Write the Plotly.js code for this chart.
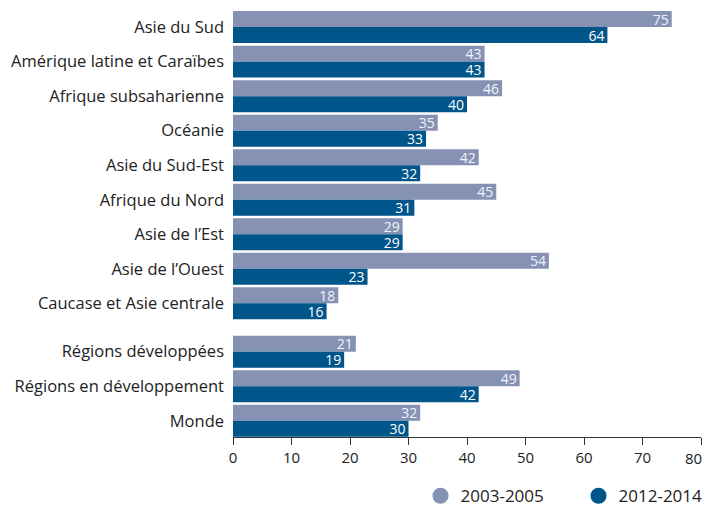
<!DOCTYPE html>
<html>
<head>
<meta charset="utf-8">
<script src="https://cdn.plot.ly/plotly-3.0.1.min.js"></script>
<style>html,body{margin:0;padding:0;background:#fff;}#chart{width:705px;height:509px;}</style>
</head>
<body>
<div id="chart"></div>
<script>
// Data
const regions = ["Asie du Sud","Amérique latine et Caraïbes","Afrique subsaharienne","Océanie","Asie du Sud-Est","Afrique du Nord","Asie de l’Est","Asie de l’Ouest","Caucase et Asie centrale"];
const aggregates = ["Régions développées","Régions en développement","Monde"];
const values2003 = [75,43,46,35,42,45,29,54,18, 21,49,32];
const values2012 = [64,43,40,33,32,31,29,23,16, 19,42,30];
const seriesNames = ["2003-2005","2012-2014"];
const xTicks = [0,10,20,30,40,50,60,70,80];

const categories = regions.concat(aggregates);
const groupGap = 0.4;
const pos = categories.map((c,i)=> i < regions.length ? i : i + groupGap);
const lastTick = xTicks[xTicks.length-1];
// the last tick label sits flush with the right edge (as in the reference): drawn as an annotation
const xTickText = xTicks.map(v => v === lastTick ? "" : String(v));

const light = "#8592b4", dark = "#00558a";
const font = "Open Sans, Noto Sans, sans-serif";

function barTrace(vals, color, name, txtColor){
  return {
    type:"bar", orientation:"h", x:vals, y:pos, name:name,
    marker:{color:color, line:{width:0}},
    text: vals.map(String), textposition:"inside", insidetextanchor:"end", textangle:0,
    textfont:{family:font, size:14, color:txtColor}, constraintext:"none",
    showlegend:false, hoverinfo:"x+name", cliponaxis:false
  };
}
const data = [
  barTrace(values2003, light, seriesNames[0], "#f2f3f8"),
  barTrace(values2012, dark, seriesNames[1], "#ffffff"),
  {type:"scatter", mode:"markers", x:[null], y:[null], name:seriesNames[0], marker:{symbol:"circle", size:16, color:light}, showlegend:true},
  {type:"scatter", mode:"markers", x:[null], y:[null], name:seriesNames[1], marker:{symbol:"circle", size:16, color:dark}, showlegend:true}
];

const layout = {
  width:705, height:509,
  margin:{l:233, r:4, t:5, b:72, pad:0, autoexpand:false},
  paper_bgcolor:"#fff", plot_bgcolor:"#fff",
  barmode:"group", bargap:0.074, bargroupgap:0,
  font:{family:font, size:16.5, color:"#222"},
  xaxis:{range:[0,80], tickvals:xTicks, ticktext:xTickText, showgrid:false, zeroline:false,
    showline:true, linecolor:"#333", linewidth:1, ticks:"outside", ticklen:7, tickcolor:"#333",
    ticklabeloverflow:"allow", automargin:false,
    tickfont:{family:font, size:15, color:"#222"}, fixedrange:true},
  yaxis:{range:[11.87,-0.64], tickvals:pos, ticktext:categories, showgrid:false, zeroline:false,
    showline:false, ticks:"", ticklabelstandoff:8, automargin:false,
    tickfont:{family:font, size:16.5, color:"#222"}},
  annotations:[{x:lastTick, xref:"x", y:0, yref:"paper", yanchor:"top", xanchor:"right",
    xshift:3, yshift:-9, text:String(lastTick), showarrow:false,
    font:{family:font, size:15, color:"#222"}}],
  legend:{orientation:"h", x:0.4007, xanchor:"left", y:-0.137, yanchor:"middle",
    entrywidth:113, entrywidthmode:"pixels",
    font:{family:font, size:17, color:"#222"}, itemwidth:30, tracegroupgap:0, bgcolor:"rgba(0,0,0,0)"},
  showlegend:true
};
Plotly.newPlot("chart", data, layout, {displayModeBar:false, staticPlot:true});
</script>
</body>
</html>
